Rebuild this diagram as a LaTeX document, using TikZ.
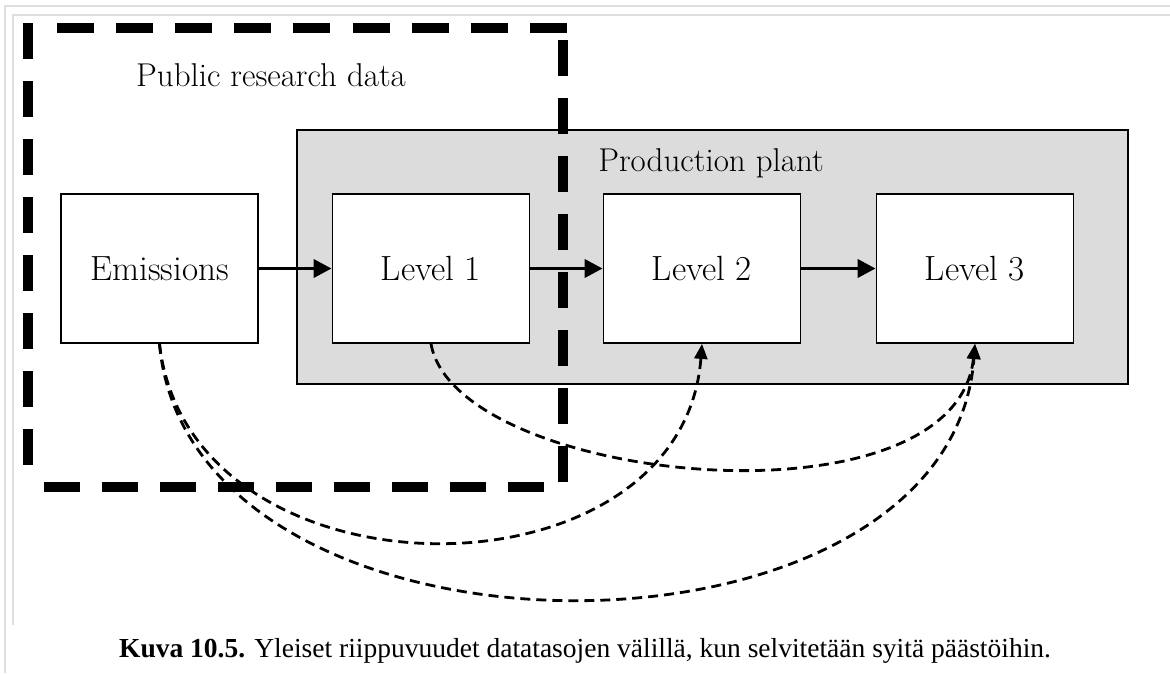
\documentclass[tikz,border=0pt]{standalone}
\usepackage{fontspec}
\newfontfamily\capfont{Liberation Serif}
\usetikzlibrary{arrows.meta}
\definecolor{plantgray}{RGB}{220,220,220}
\definecolor{framegray}{RGB}{222,222,222}
\tikzset{
  levelbox/.style={draw=black, line width=1.8pt, fill=white, minimum width=197pt, minimum height=149pt, inner sep=0pt, font=\fontsize{35}{40}\selectfont},
  plantbox/.style={draw=black, line width=1.5pt, fill=plantgray},
  bigdash/.style={line width=10pt, line cap=butt, dash pattern=on 36pt off 22pt},
  flowarrow/.style={line width=3.8pt, -{Triangle[length=18pt,width=18pt]}},
  depcurve/.style={line width=2.8pt, dash pattern=on 10pt off 6pt, -{Triangle[length=15pt,width=13pt]}},
  framegrayline/.style={draw=framegray, line width=1.5pt},
  lbl/.style={font=\fontsize{33}{38}\selectfont, inner sep=0pt}
}
\begin{document}
\begin{tikzpicture}[x=1pt, y=-1pt]
\useasboundingbox (0,0) rectangle (1170,673);
% page frame lines
\draw[framegrayline] (5,673) -- (5,6) -- (1170,6);
\draw[framegrayline] (13,625) -- (13,15) -- (1170,15);
% production plant
\draw[plantbox] (297,130) rectangle (1128,384);
\node[lbl] (plantlbl) at (711,163) {Production plant};
% public research data dashed region
\draw[bigdash] (28,23) -- (28,485);
\draw[bigdash, dash pattern=on 37pt off 22.1pt] (57,28) -- (568,28);
\draw[bigdash] (563,482) -- (563,23);
\draw[bigdash] (544,487) -- (33,487);
\node[lbl] (publbl) at (271,75) {Public research data};
% boxes
\node[levelbox] (emis) at (159.5,268.5) {Emissions};
\node[levelbox] (l1) at (431,268.5) {Level 1};
\node[levelbox] (l2) at (702,268.5) {Level 2};
\node[levelbox] (l3) at (975,268.5) {Level 3};
% flow arrows
\draw[flowarrow] (emis.east) -- (l1.west);
\draw[flowarrow] (l1.east) -- (l2.west);
\draw[flowarrow] (l2.east) -- (l3.west);
% dependency curves
\draw[depcurve] (emis.south) .. controls +(30,264) and +(-20,264) .. (l2.south);
\draw[depcurve] (emis.south) .. controls +(30,340) and +(-25,340) .. (l3.south);
\draw[depcurve] (l1.south) .. controls +(25,140) and +(-20,190) .. (l3.south);
% caption
\node[font=\capfont\fontsize{27.5}{32}\selectfont, inner sep=0pt] (cap) at (585,651) {\textbf{Kuva 10.5.} Yleiset riippuvuudet datatasojen välillä, kun selvitetään syitä päästöihin.};
\end{tikzpicture}
\end{document}
